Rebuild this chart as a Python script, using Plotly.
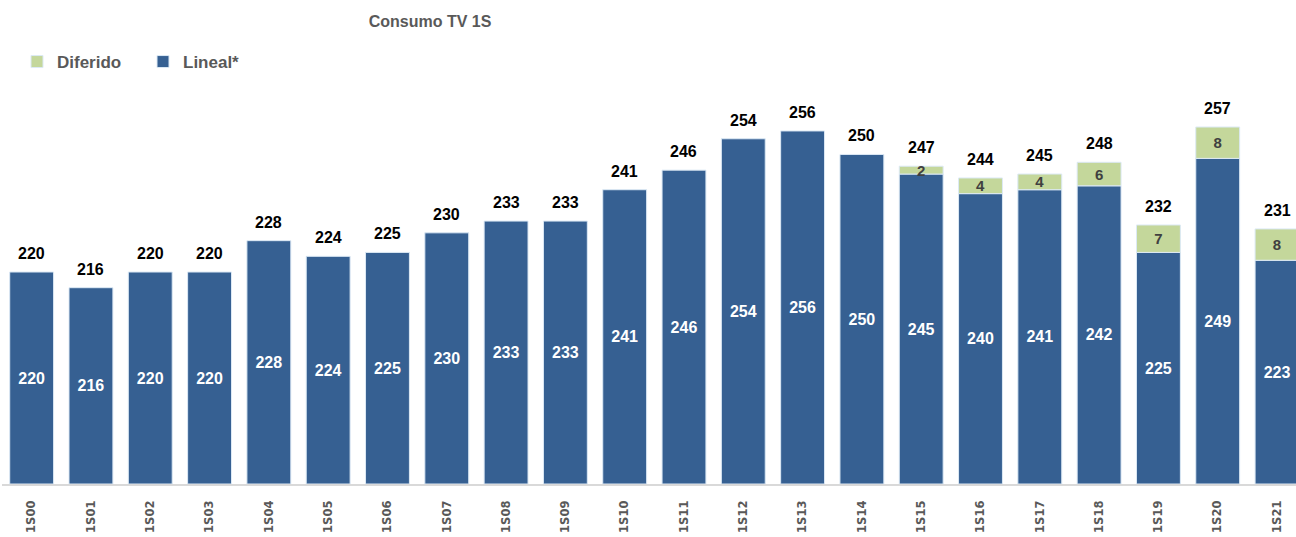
import plotly.graph_objects as go

categories = ["1S00","1S01","1S02","1S03","1S04","1S05","1S06","1S07","1S08","1S09","1S10",
              "1S11","1S12","1S13","1S14","1S15","1S16","1S17","1S18","1S19","1S20","1S21"]
lineal = [220,216,220,220,228,224,225,230,233,233,241,246,254,256,250,245,240,241,242,225,249,223]
diferido = [None]*15 + [2,4,4,6,7,8,8]
totals = [220,216,220,220,228,224,225,230,233,233,241,246,254,256,250,247,244,245,248,232,257,231]

Y_MIN = 165.9
Y_MAX = 266.45

FONT = "Liberation Sans, Arial, sans-serif"
BLUE = "#366092"
GREEN = "#C4D79B"

fig = go.Figure()

fig.add_trace(go.Bar(
    name="Lineal*", x=categories, y=[v - Y_MIN for v in lineal], base=Y_MIN,
    marker=dict(color=BLUE, line=dict(color="#DCE9F5", width=1)),
    text=[str(v) for v in lineal],
    textposition="inside", insidetextanchor="middle", constraintext="none", textangle=0,
    textfont=dict(family=FONT, size=16, color="white", weight="bold"),
    hoverinfo="skip",
))

fig.add_trace(go.Bar(
    name="Diferido", x=categories, y=diferido, base=lineal,
    marker=dict(color=GREEN, line=dict(color="#DCE9F5", width=1)),
    text=[str(v) if v is not None else "" for v in diferido],
    textposition="inside", insidetextanchor="middle", constraintext="none", textangle=0,
    textfont=dict(family=FONT, size=15, color="#404040", weight="bold"),
    hoverinfo="skip",
))

for c, t in zip(categories, totals):
    fig.add_annotation(x=c, y=t, text=str(t), showarrow=False, yanchor="bottom", yshift=8,
                       font=dict(family=FONT, size=16, color="black", weight="bold"))

fig.update_layout(
    width=1296, height=537,
    barmode="overlay", bargap=0.26,
    margin=dict(l=2, r=0, t=90, b=53, autoexpand=False),
    plot_bgcolor="white", paper_bgcolor="white",
    title=dict(text="Consumo TV 1S", x=430/1296, xanchor="center", y=1-21/537, yanchor="middle",
               font=dict(family=FONT, size=16, color="#595959", weight="bold")),
    legend=dict(orientation="h", x=15/1294, xanchor="left", y=1 + (90-62)/394, yanchor="middle",
                traceorder="reversed", entrywidth=81, entrywidthmode="pixels",
                font=dict(family=FONT, size=17, color="#595959", weight="bold")),
    showlegend=True,
)
fig.update_xaxes(range=[-0.5, 21.32], tickangle=-90, showline=True, linecolor="#D9D9D9", linewidth=2,
                 ticks="outside", ticklen=10, tickcolor="rgba(0,0,0,0)", automargin=False,
                 tickfont=dict(family="DejaVu Sans", size=11.5, color="#595959", weight="bold"))
fig.update_yaxes(range=[Y_MIN, Y_MAX], visible=False, showgrid=False, automargin=False)

fig.write_html("out.html", config={"displayModeBar": False},
               post_script="document.body.style.margin='0';document.body.style.overflow='hidden';")
